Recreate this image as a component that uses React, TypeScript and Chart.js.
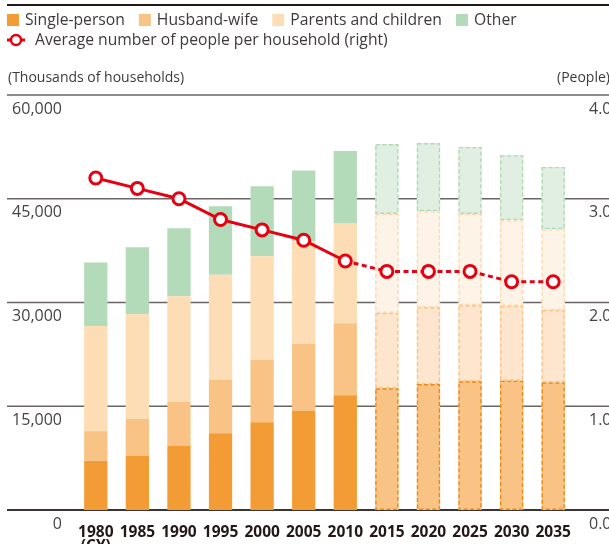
import React, { useEffect, useRef } from "react";
import { Chart, registerables } from "chart.js";

Chart.register(...registerables);

const years = ["1980", "1985", "1990", "1995", "2000", "2005", "2010", "2015", "2020", "2025", "2030", "2035"];
const singlePerson = [7100, 7800, 9250, 11100, 12700, 14300, 16600, 17600, 18200, 18600, 18700, 18450];
const husbandWife = [4300, 5400, 6350, 7700, 9000, 9700, 10400, 10900, 11100, 11000, 10800, 10450];
const parentsChildren = [15200, 15100, 15300, 15200, 15000, 14900, 14500, 14300, 13900, 13200, 12400, 11700];
const other = [9200, 9700, 9850, 9900, 10100, 10200, 10400, 10100, 9850, 9700, 9400, 9000];
const avgPeople = [3.2, 3.1, 3.0, 2.8, 2.7, 2.6, 2.4, 2.3, 2.3, 2.3, 2.2, 2.2];
const leftTicks = [0, 15000, 30000, 45000, 60000];
const rightTicks = [0, 1, 2, 3, 4];
const firstProjected = 7; // 2015 onward

const FONT = '"Open Sans", "Noto Sans", sans-serif';
const TEXT = "#3e3a39";

const seriesStyle = [
  { label: "Single-person", solid: "#f39c35", fut: "#f8c384", dash: "#f0890f" },
  { label: "Husband-wife", solid: "#f8c385", fut: "#fde6cd", dash: "#f9c48a" },
  { label: "Parents and children", solid: "#fcddb5", fut: "#fdf3e6", dash: "#fcd9b0" },
  { label: "Other", solid: "#b3dab9", fut: "#e0efe2", dash: "#b0d9b6" },
];
const seriesData = [singlePerson, husbandWife, parentsChildren, other];

const decorPlugin = {
  id: "decor",
  beforeDatasetsDraw(chart: any) {
    const ctx = chart.ctx;
    const y = chart.scales.y;
    const W = chart.width;
    ctx.save();
    // top rule
    ctx.strokeStyle = "#231815";
    ctx.lineWidth = 2;
    ctx.beginPath();
    ctx.moveTo(7, 5);
    ctx.lineTo(W, 5);
    ctx.stroke();
    y.ticks.forEach((t: any) => {
      const py = y.getPixelForValue(t.value);
      ctx.beginPath();
      if (t.value === 0) {
        ctx.strokeStyle = "#3a3433";
        ctx.lineWidth = 2;
      } else {
        ctx.strokeStyle = "#6a6462";
        ctx.lineWidth = 1.3;
      }
      ctx.moveTo(7, py);
      ctx.lineTo(W, py);
      ctx.stroke();
    });
    ctx.restore();
  },
  afterDatasetDraw(chart: any, args: any) {
    const meta = args.meta;
    if (meta.type !== "bar") return;
    const style = seriesStyle[args.index];
    const ctx = chart.ctx;
    ctx.save();
    ctx.setLineDash([4, 2.5]);
    ctx.lineWidth = 1.4;
    ctx.strokeStyle = style.dash;
    meta.data.forEach((el: any, i: number) => {
      if (i < firstProjected) return;
      const p = el.getProps(["x", "y", "base", "width"], true);
      const left = p.x - p.width / 2;
      const top = Math.min(p.y, p.base);
      const h = Math.abs(p.base - p.y);
      ctx.strokeRect(left + 0.7, top + 0.7, p.width - 1.4, h - 1.4);
    });
    ctx.restore();
  },
  afterDraw(chart: any) {
    const ctx = chart.ctx;
    ctx.save();
    ctx.font = `15.7px ${FONT}`;
    ctx.fillStyle = TEXT;
    ctx.textBaseline = "middle";
    let x = 7;
    seriesStyle.forEach((s) => {
      ctx.fillStyle = s.solid;
      ctx.fillRect(x, 14, 12, 12);
      ctx.fillStyle = TEXT;
      ctx.fillText(s.label, x + 18, 20.5);
      x += 18 + ctx.measureText(s.label).width + 14;
    });
    // line legend
    ctx.strokeStyle = "#e60012";
    ctx.lineWidth = 3;
    ctx.beginPath();
    ctx.moveTo(7, 40);
    ctx.lineTo(25, 40);
    ctx.stroke();
    ctx.beginPath();
    ctx.arc(16, 40, 5, 0, Math.PI * 2);
    ctx.fillStyle = "#fff";
    ctx.fill();
    ctx.lineWidth = 2.5;
    ctx.stroke();
    ctx.fillStyle = TEXT;
    ctx.fillText("Average number of people per household (right)", 35, 40.5);
    // axis titles
    ctx.font = `14px ${FONT}`;
    ctx.fillText("(Thousands of households)", 8, 78);
    ctx.fillText("(People)", 557, 78);
    ctx.restore();
  },
};

export default function App() {
  const ref = useRef<HTMLCanvasElement>(null);
  useEffect(() => {
    if (!ref.current) return;
    Chart.defaults.font.family = FONT;
    const datasets: any[] = seriesStyle.map((s, k) => ({
      type: "bar",
      label: s.label,
      data: seriesData[k],
      backgroundColor: seriesData[k].map((_, i) => (i >= firstProjected ? s.fut : s.solid)),
      borderWidth: 0,
      stack: "s",
      yAxisID: "y",
      order: 1,
      barPercentage: 0.56,
      categoryPercentage: 1,
    }));
    datasets.push({
      type: "line",
      label: "Average number of people per household (right)",
      data: avgPeople,
      yAxisID: "y1",
      order: 0,
      borderColor: "#e60012",
      borderWidth: 3,
      pointRadius: 6,
      pointBorderWidth: 3,
      pointBackgroundColor: "#ffffff",
      pointBorderColor: "#e60012",
      segment: {
        borderDash: (c: any) => (c.p0DataIndex >= firstProjected - 1 ? [5, 3.5] : undefined),
      },
    });
    const chart = new Chart(ref.current, {
      type: "bar",
      data: {
        labels: years.map((y, i) => (i === 0 ? [y, "(CY)"] : y)),
        datasets,
      },
      options: {
        responsive: false,
        animation: false,
        devicePixelRatio: 1,
        layout: { padding: { top: 95, left: 0, right: 0, bottom: 0 } },
        plugins: { legend: { display: false }, tooltip: { enabled: false } },
        scales: {
          x: {
            stacked: true,
            grid: { display: false },
            border: { display: false },
            ticks: {
              color: "#231815",
              font: { size: 15.5, weight: "bold", lineHeight: 0.92 },
              padding: 7,
              maxRotation: 0,
              autoSkip: false,
            },
            afterFit: (s: any) => {
              s.height = 34;
            },
          },
          y: {
            stacked: true,
            position: "left",
            min: 0,
            max: 60000,
            afterBuildTicks: (s: any) => {
              s.ticks = leftTicks.map((v) => ({ value: v }));
            },
            grid: { display: false, drawTicks: false },
            border: { display: false },
            ticks: {
              color: "#444",
              font: { size: 16 },
              padding: 13,
              labelOffset: 14,
              callback: (v: any) => Number(v).toLocaleString("en-US"),
            },
            afterFit: (s: any) => {
              s.width = 75;
            },
          },
          y1: {
            position: "right",
            min: 0,
            max: 4,
            afterBuildTicks: (s: any) => {
              s.ticks = rightTicks.map((v) => ({ value: v }));
            },
            grid: { display: false, drawTicks: false },
            border: { display: false },
            ticks: {
              color: "#444",
              font: { size: 16 },
              padding: 15,
              labelOffset: 14,
              callback: (v: any) => Number(v).toFixed(1),
            },
            afterFit: (s: any) => {
              s.width = 35;
            },
          },
        },
      },
      plugins: [decorPlugin],
    } as any);
    return () => chart.destroy();
  }, []);
  return (
    <canvas
      ref={ref}
      width={609}
      height={544}
      style={{ position: "fixed", left: 0, top: 0, width: 609, height: 544 }}
    />
  );
}
